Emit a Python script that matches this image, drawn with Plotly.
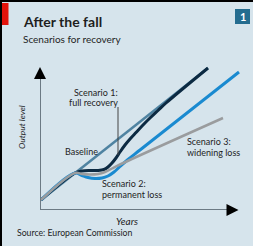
import plotly.graph_objects as go

# ---- data (years on x, output level on y; abstract units) ----
baseline_x = [0.1, 16.8]
baseline_y = [10, 142]

s1_x = [0.1, 3.5, 4.2, 5.0, 5.8, 6.4, 6.8, 7.2, 7.6, 8.0, 8.5, 9.0, 9.6, 10.3, 11.0, 11.8, 12.6, 16.8]
s1_y = [10, 37, 39, 39.5, 39.5, 40.5, 43, 47, 52, 58, 65, 71, 77.5, 85, 92, 99.5, 107, 142]

s2_x = [0.1, 3.5, 4.2, 4.8, 5.5, 6.2, 6.8, 7.4, 8.0, 8.8, 10.0, 19.9]
s2_y = [10, 37, 34.5, 32.5, 31.5, 32, 34, 38, 43.5, 50.5, 60, 138]

s3_x = [0.1, 3.5, 4.2, 5.0, 5.8, 6.5, 7.2, 8.0, 18.3]
s3_y = [10, 37, 36, 35.5, 36, 38, 41.5, 45.5, 92]

x_range = [0, 20]
y_range = [0, 145]

# ---- layout geometry (pixels) ----
W, H = 253, 246
L, R, T, B = 40, 13, 65, 36
PW, PH = W - L - R, H - T - B

def px(x):
    return (x - L) / PW

def py(y):
    return (H - B - y) / PH

FONT = "Lato, sans-serif"
BG = "#d6e4ec"
TXT = "#1e1e1e"

fig = go.Figure()
fig.add_trace(go.Scatter(x=baseline_x, y=baseline_y, mode="lines",
                         line=dict(color="#4f83a1", width=2.5), hoverinfo="skip"))
fig.add_trace(go.Scatter(x=s1_x, y=s1_y, mode="lines", line_shape="spline",
                         line=dict(color="#0c2a42", width=3), hoverinfo="skip"))
fig.add_trace(go.Scatter(x=s2_x, y=s2_y, mode="lines", line_shape="spline",
                         line=dict(color="#1a8ad0", width=3), hoverinfo="skip"))
fig.add_trace(go.Scatter(x=s3_x, y=s3_y, mode="lines", line_shape="spline",
                         line=dict(color="#9a9c9e", width=2.5), hoverinfo="skip"))

shapes = [
    # border top and left
    dict(type="line", xref="paper", yref="paper", x0=px(0), x1=px(W), y0=py(1), y1=py(1),
         line=dict(color="black", width=2)),
    dict(type="line", xref="paper", yref="paper", x0=px(1), x1=px(1), y0=py(0), y1=py(H),
         line=dict(color="black", width=2)),
    # red tag
    dict(type="rect", xref="paper", yref="paper", x0=px(2), x1=px(8.5), y0=py(3), y1=py(25),
         fillcolor="#e3120b", line=dict(width=0)),
    # number box
    dict(type="rect", xref="paper", yref="paper", x0=px(235), x1=px(250), y0=py(9), y1=py(24),
         fillcolor="#246c8f", line=dict(width=0)),
    # axes
    dict(type="line", xref="x", yref="y", x0=0, x1=0, y0=0, y1=139,
         line=dict(color="#6c7a84", width=2)),
    dict(type="line", xref="x", yref="y", x0=0, x1=19.3, y0=0, y1=0,
         line=dict(color="#6c7a84", width=2)),
    # scenario 1 leader line
    dict(type="line", xref="x", yref="y", x0=7.8, x1=7.8, y0=55, y1=103,
         line=dict(color="#444", width=1)),
]

def txt(x, y, s, size=9, xanchor="left", xref="x", yref="y", **kw):
    return dict(x=x, y=y, xref=xref, yref=yref, text=s, showarrow=False,
                xanchor=xanchor, yanchor="middle",
                font=dict(family=FONT, size=size, color=kw.pop("color", TXT)), **kw)

ann = [
    txt(px(21), py(21), "<b>After the fall</b>", size=14, xref="paper", yref="paper"),
    txt(px(21), py(39), "Scenarios for recovery", size=10, xref="paper", yref="paper"),
    txt(px(242.5), py(16.5), "<b>1</b>", size=11, xanchor="center", xref="paper", yref="paper",
        color="white"),
    txt(px(22), py(127), "<i>Output level</i>", size=8.5, xanchor="center",
        xref="paper", yref="paper", textangle=-90),
    txt(px(127), py(221), "<i>Years</i>", size=10, xanchor="center", xref="paper", yref="paper"),
    txt(px(15), py(232), "Source: European Commission", size=8.7, xref="paper", yref="paper"),
    txt(8.0, 118, "Scenario 1:", xanchor="right"),
    txt(8.0, 108, "full recovery", xanchor="right"),
    txt(2.3, 59, "Baseline"),
    txt(6.0, 27, "Scenario 2:"),
    txt(6.0, 16, "permanent loss"),
    txt(14.5, 69, "Scenario 3:"),
    txt(14.5, 58, "widening loss"),
    # arrow heads
    dict(x=0, y=143, xref="x", yref="y", ax=0, ay=10,
         showarrow=True, arrowhead=2, arrowsize=1.2, arrowwidth=2, arrowcolor="black",
         text="", standoff=0),
    dict(x=19.85, y=0, xref="x", yref="y", ax=-10, ay=0,
         showarrow=True, arrowhead=2, arrowsize=1.2, arrowwidth=2, arrowcolor="black",
         text="", standoff=0),
]

fig.update_layout(
    width=W, height=H,
    margin=dict(l=L, r=R, t=T, b=B, pad=0),
    paper_bgcolor=BG, plot_bgcolor=BG,
    showlegend=False,
    xaxis=dict(range=x_range, visible=False, fixedrange=True),
    yaxis=dict(range=y_range, visible=False, fixedrange=True),
    shapes=shapes, annotations=ann,
)

fig.write_html("out.html", config={"displayModeBar": False})
